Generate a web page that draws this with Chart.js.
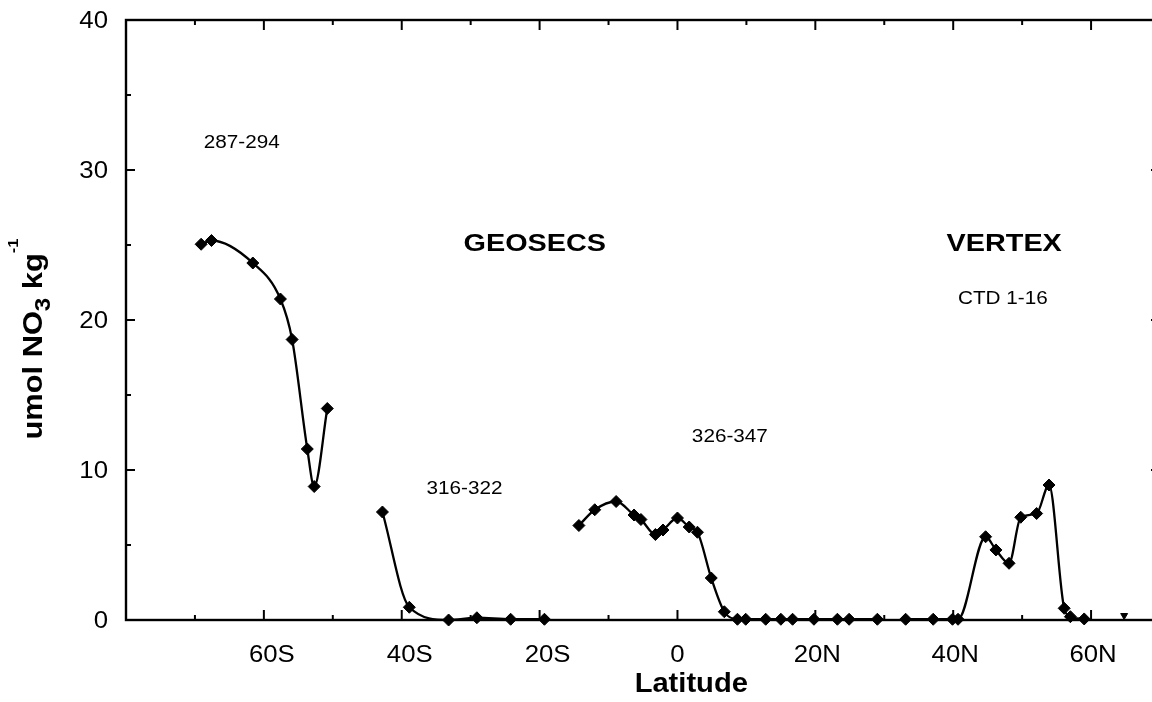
<!DOCTYPE html>
<html>
<head>
<meta charset="utf-8">
<script src="https://cdn.jsdelivr.net/npm/chart.js@4.4.0/dist/chart.umd.min.js"></script>
<style>
html, body { margin: 0; padding: 0; background: #fff; overflow: hidden; }
canvas { display: block; }
</style>
</head>
<body>
<canvas id="grafica" width="1168" height="702"></canvas>
<script>
// GEOSECS 287-294
const lat287 = [-69.1, -67.6, -61.6, -57.6, -55.9, -53.7, -52.7, -50.8];
const no3_287 = [25.05, 25.3, 23.8, 21.4, 18.7, 11.4, 8.9, 14.1];
// GEOSECS 316-322
const lat316 = [-42.8, -38.9, -33.2, -29.1, -24.2, -19.3];
const no3_316 = [7.2, 0.85, 0.0, 0.15, 0.05, 0.05];
// GEOSECS 326-347
const lat326 = [-14.3, -12.0, -8.9, -6.3, -5.3, -3.2, -2.1, 0.0, 1.7, 2.9, 4.9, 6.8, 8.7, 9.9, 12.8, 15.0, 16.7, 19.8, 23.2, 24.9, 29.0];
const no3_326 = [6.3, 7.35, 7.9, 7.0, 6.7, 5.7, 6.0, 6.8, 6.2, 5.85, 2.8, 0.55, 0.05, 0.05, 0.05, 0.05, 0.05, 0.05, 0.05, 0.05, 0.05];
// VERTEX CTD 1-16
const latVertex = [33.1, 37.1, 39.9, 40.7, 44.7, 46.2, 48.1, 49.8, 52.1, 53.9, 56.1, 57.0, 59.0];
const no3Vertex = [0.05, 0.05, 0.05, 0.05, 5.55, 4.67, 3.78, 6.85, 7.1, 9.0, 0.78, 0.22, 0.07];
// punto suelto al norte
const latSuelto = [64.8];
const no3Suelto = [0.3];

const ticksX = [-60, -40, -20, 0, 20, 40, 60];
const etiquetasX = ['60S', '40S', '20S', '0', '20N', '40N', '60N'];
const ticksY = [0, 10, 20, 30, 40];
const etiquetasY = ['0', '10', '20', '30', '40'];

// textos dentro del grafico
const notas = ['287-294', '316-322', '326-347', 'GEOSECS', 'VERTEX', 'CTD 1-16'];
const notasLat = [-63.2, -30.9, 7.6, -20.7, 47.4, 47.2];
const notasNo3 = [31.9, 8.8, 12.3, 25.2, 25.17, 21.5];
const notasNegrita = [false, false, false, true, true, false];

const FUENTE = '"Liberation Sans", Arial, sans-serif';

function puntos(lats, vals) {
    return lats.map((x, i) => ({ x: x, y: vals[i] }));
}

function serie(lats, vals) {
    return {
        data: puntos(lats, vals),
        borderColor: '#000',
        backgroundColor: '#000',
        borderWidth: 2.3,
        pointStyle: 'rectRot',
        pointRadius: 6,
        pointBorderWidth: 1,
        pointBorderColor: '#000',
        pointBackgroundColor: '#000',
        cubicInterpolationMode: 'monotone',
        clip: false
    };
}

function texto(ctx, s, x, y, size, bold, align, stretch) {
    ctx.save();
    ctx.font = (bold ? 'bold ' : '') + size + 'px ' + FUENTE;
    ctx.translate(x, y);
    ctx.scale(stretch, 1);
    ctx.textAlign = align;
    ctx.textBaseline = 'alphabetic';
    ctx.fillStyle = '#000';
    ctx.fillText(s, 0, 0);
    ctx.restore();
}

function linea(ctx, x1, y1, x2, y2) {
    ctx.beginPath();
    ctx.moveTo(x1, y1);
    ctx.lineTo(x2, y2);
    ctx.stroke();
}

// marco y ticks hacia dentro
const marco = {
    id: 'marco',
    beforeDatasetsDraw(chart) {
        const ctx = chart.ctx;
        const a = chart.chartArea;
        const x = chart.scales.x;
        const y = chart.scales.y;
        ctx.save();
        ctx.strokeStyle = '#000';
        ctx.lineWidth = 2.4;
        ctx.strokeRect(a.left, a.top, a.right - a.left, a.bottom - a.top);
        ctx.lineWidth = 2;
        for (let v = -70; v <= 60; v += 10) {
            const px = x.getPixelForValue(v);
            const len = v % 20 === 0 ? 10 : 5;
            linea(ctx, px, a.top, px, a.top + len);
            linea(ctx, px, a.bottom, px, a.bottom - len);
        }
        for (let v = 5; v <= 35; v += 5) {
            const py = y.getPixelForValue(v);
            const len = v % 10 === 0 ? 9 : 5;
            linea(ctx, a.left, py, a.left + len, py);
            linea(ctx, a.right, py, a.right - len, py);
        }
        ctx.restore();
    },
    afterDraw(chart) {
        const ctx = chart.ctx;
        const a = chart.chartArea;
        const x = chart.scales.x;
        const y = chart.scales.y;

        // etiquetas de los ejes
        ticksX.forEach((v, i) => {
            const desp = v < 0 ? 8 : (v > 0 ? 2 : 0);
            texto(ctx, etiquetasX[i], x.getPixelForValue(v) + desp, a.bottom + 42, 23, false, 'center', 1.12);
        });
        ticksY.forEach((v, i) => {
            texto(ctx, etiquetasY[i], a.left - 18, y.getPixelForValue(v) + 8.3, 23, false, 'right', 1.12);
        });

        // notas
        notas.forEach((s, i) => {
            const size = notasNegrita[i] ? 24 : 18;
            const px = x.getPixelForValue(notasLat[i]);
            const py = y.getPixelForValue(notasNo3[i]) + size * 0.358;
            texto(ctx, s, px, py, size, notasNegrita[i], 'center', notasNegrita[i] ? 1.2 : 1.15);
        });

        // titulo eje x
        texto(ctx, 'Latitude', x.getPixelForValue(2), a.bottom + 71.7, 28, true, 'center', 1.04);

        // titulo eje y con subindice y superindice
        const partes = [
            { s: 'umol NO', size: 28, dy: 0 },
            { s: '3', size: 22, dy: 8 },
            { s: ' kg', size: 28, dy: 0 },
            { s: '-1', size: 15, dy: -23.5 }
        ];
        ctx.save();
        ctx.translate(41.7, 339);
        ctx.rotate(-Math.PI / 2);
        ctx.scale(1.1, 1);
        ctx.fillStyle = '#000';
        ctx.textBaseline = 'alphabetic';
        ctx.textAlign = 'left';
        let total = 0;
        partes.forEach(p => {
            ctx.font = 'bold ' + p.size + 'px ' + FUENTE;
            p.w = ctx.measureText(p.s).width;
            total += p.w;
        });
        let pos = -total / 2;
        partes.forEach(p => {
            ctx.font = 'bold ' + p.size + 'px ' + FUENTE;
            ctx.fillText(p.s, pos, p.dy);
            pos += p.w;
        });
        ctx.restore();
    }
};

const suelto = {
    data: puntos(latSuelto, no3Suelto),
    showLine: false,
    pointStyle: 'triangle',
    rotation: 180,
    pointRadius: 4,
    pointBackgroundColor: '#000',
    pointBorderColor: '#000',
    clip: false
};

new Chart(document.getElementById('grafica').getContext('2d'), {
    type: 'line',
    data: {
        datasets: [
            serie(lat287, no3_287),
            serie(lat316, no3_316),
            serie(lat326, no3_326),
            serie(latVertex, no3Vertex),
            suelto
        ]
    },
    options: {
        responsive: false,
        animation: false,
        layout: { padding: { left: 126, right: 8, top: 20, bottom: 82 } },
        scales: {
            x: { type: 'linear', min: -80, max: 70, display: false },
            y: { type: 'linear', min: 0, max: 40, display: false }
        },
        plugins: {
            legend: { display: false },
            tooltip: { enabled: false }
        }
    },
    plugins: [marco]
});
</script>
</body>
</html>
